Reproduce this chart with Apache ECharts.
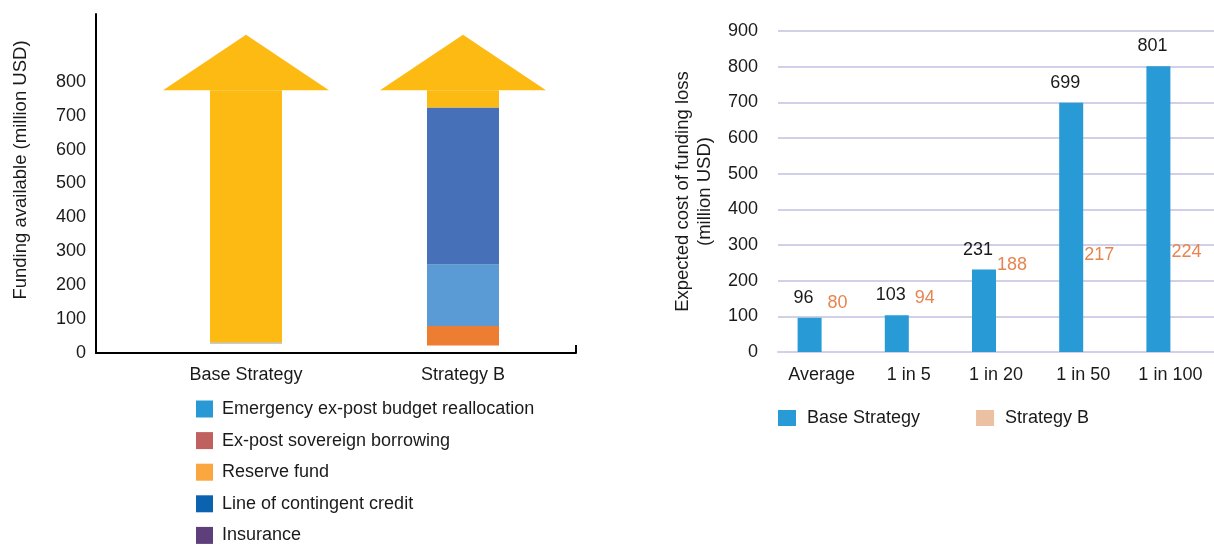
<!DOCTYPE html>
<html>
<head>
<meta charset="utf-8">
<script src="https://cdn.jsdelivr.net/npm/echarts@6/dist/echarts.min.js"></script>
<style>
  html, body { margin: 0; padding: 0; background: #fff; }
  #main { width: 1214px; height: 545px; }
</style>
</head>
<body>
<div id="main"></div>
<script>
// left chart: funding available (stacked arrow shafts)
var strategies = ['Base Strategy', 'Strategy B']
var shaftStart = [28, 22]
var bottomEdge = [3, 0]
var contingentOrange = [0, 58]
var reallocationBlue = [0, 181]
var creditBlue = [0, 463]
var reserveYellow = [744, 51]
var headBase = [775, 775]
var headTip = [939, 939]
var leftTicks = [0, 100, 200, 300, 400, 500, 600, 700, 800]
var instruments = ['Emergency ex-post budget reallocation', 'Ex-post sovereign borrowing', 'Reserve fund', 'Line of contingent credit', 'Insurance']
var instrumentColors = ['#2899D5', '#C0605F', '#F9A73E', '#0B63B0', '#5E3F7B']

// right chart: expected cost of funding loss
var categories = ['Average', '1 in 5', '1 in 20', '1 in 50', '1 in 100']
var baseValues = [96, 103, 231, 699, 801]
var strategyBValues = [80, 94, 188, 217, 224]

var font = "'Liberation Sans', Arial, sans-serif"
var myChart = echarts.init(document.getElementById('main'))

function segment (name, data, color) {
  return {
    name: name,
    type: 'bar',
    xAxisIndex: 1,
    yAxisIndex: 1,
    stack: 'shaft',
    barWidth: 72,
    silent: true,
    itemStyle: {color: color},
    data: data
  }
}

var series = [
  segment('start', shaftStart, 'rgba(0,0,0,0)'),
  segment('edge', bottomEdge, '#8C9AB0'),
  segment('orange', contingentOrange, '#ED7D31'),
  segment('lightblue', reallocationBlue, '#5B9BD5'),
  segment('darkblue', creditBlue, '#4670B8'),
  segment('yellow', reserveYellow, '#FCBA12'),
  {
    name: 'head',
    type: 'custom',
    xAxisIndex: 1,
    yAxisIndex: 1,
    silent: true,
    renderItem: function (params, api) {
      var b = api.coord([api.value(0), api.value(1)])
      var t = api.coord([api.value(0), api.value(2)])
      var half = 83
      return {
        type: 'polygon',
        shape: {points: [[b[0] - half, b[1]], [b[0] + half, b[1]], [t[0], t[1]]]},
        style: {fill: '#FCBA12'}
      }
    },
    encode: {x: 0, y: [1, 2]},
    data: strategies.map(function (s, i) { return [i, headBase[i], headTip[i]] })
  }
]
// legend-only entries for the left chart
instruments.forEach(function (name, i) {
  series.push(segment(name, [], instrumentColors[i]))
})
series.push({
  name: 'Base Strategy',
  type: 'bar',
  xAxisIndex: 2,
  yAxisIndex: 2,
  barWidth: 24,
  barGap: '0%',
  itemStyle: {color: '#289AD6'},
  label: {show: true, position: 'top', distance: 11, offset: [-6, 0], color: '#1a1a1a', fontSize: 18, fontFamily: font},
  data: baseValues
})
series.push({
  name: 'Strategy B',
  type: 'bar',
  xAxisIndex: 2,
  yAxisIndex: 2,
  barWidth: 24,
  barGap: '0%',
  itemStyle: {color: 'rgba(0,0,0,0)'},
  label: {show: true, position: 'top', distance: 11, offset: [4, 0], color: '#E8844F', fontSize: 18, fontFamily: font},
  data: strategyBValues
})

var option = {
  animation: false,
  textStyle: {fontFamily: font},
  grid: [
    {left: 96, width: 480, top: 14, bottom: 192},
    {left: 137.5, width: 434, top: 14, bottom: 192},
    {left: 778, width: 440, top: 31, bottom: 193}
  ],
  legend: [{
    data: instruments,
    orient: 'vertical',
    left: 196,
    top: 400,
    padding: 0,
    itemWidth: 17,
    itemHeight: 17,
    itemGap: 13.6,
    icon: 'rect',
    selectedMode: false,
    textStyle: {fontSize: 18, color: '#1a1a1a', fontFamily: font, padding: [0, 0, 0, 4]}
  }, {
    data: [
      {name: 'Base Strategy', itemStyle: {color: '#289AD6'}},
      {name: 'Strategy B', itemStyle: {color: '#EBC0A3'}}
    ],
    left: 778,
    top: 409,
    padding: 0,
    itemWidth: 18,
    itemHeight: 16,
    itemGap: 56,
    icon: 'rect',
    selectedMode: false,
    textStyle: {fontSize: 18, color: '#1a1a1a', fontFamily: font, padding: [0, 0, 0, 6]}
  }],
  xAxis: [{
    gridIndex: 0,
    type: 'value',
    min: 0,
    max: 1,
    interval: 1,
    axisLine: {lineStyle: {color: '#000', width: 2}},
    axisTick: {show: true, inside: true, length: 8, lineStyle: {color: '#000', width: 2}},
    axisLabel: {show: false},
    splitLine: {show: false}
  }, {
    gridIndex: 1,
    type: 'category',
    data: strategies,
    axisLine: {show: false},
    axisTick: {show: false},
    axisLabel: {margin: 13, fontSize: 18, color: '#1a1a1a', fontFamily: font}
  }, {
    gridIndex: 2,
    type: 'category',
    data: categories,
    axisLine: {lineStyle: {color: '#D0D0E8', width: 2}},
    axisTick: {show: false},
    axisLabel: {margin: 14, fontSize: 18, color: '#1a1a1a', fontFamily: font}
  }],
  yAxis: [{
    gridIndex: 0,
    type: 'value',
    min: 0,
    max: 1000,
    interval: 100,
    name: 'Funding available (million USD)',
    nameLocation: 'middle',
    nameGap: 66,
    nameTextStyle: {fontSize: 18.5, color: '#1a1a1a', fontFamily: font, padding: [0, 0, 0, 27]},
    axisLine: {show: true, lineStyle: {color: '#000', width: 2}},
    axisTick: {show: false},
    splitLine: {show: false},
    axisLabel: {
      margin: 10,
      fontSize: 18,
      color: '#1a1a1a',
      fontFamily: font,
      formatter: function (v) { return leftTicks.indexOf(v) >= 0 ? String(v) : '' }
    }
  }, {
    gridIndex: 1,
    type: 'value',
    min: 0,
    max: 1000,
    show: false,
    splitLine: {show: false}
  }, {
    gridIndex: 2,
    type: 'value',
    min: 0,
    max: 900,
    interval: 100,
    name: 'Expected cost of funding loss\n(million USD)',
    nameLocation: 'middle',
    nameGap: 62,
    nameTextStyle: {fontSize: 18.5, color: '#1a1a1a', fontFamily: font, lineHeight: 22},
    axisLine: {show: false},
    axisTick: {show: false},
    splitLine: {lineStyle: {color: '#D0D0E8', width: 2}},
    axisLabel: {margin: 20, fontSize: 18, color: '#1a1a1a', fontFamily: font}
  }],
  series: series
}
myChart.setOption(option)
</script>
</body>
</html>
